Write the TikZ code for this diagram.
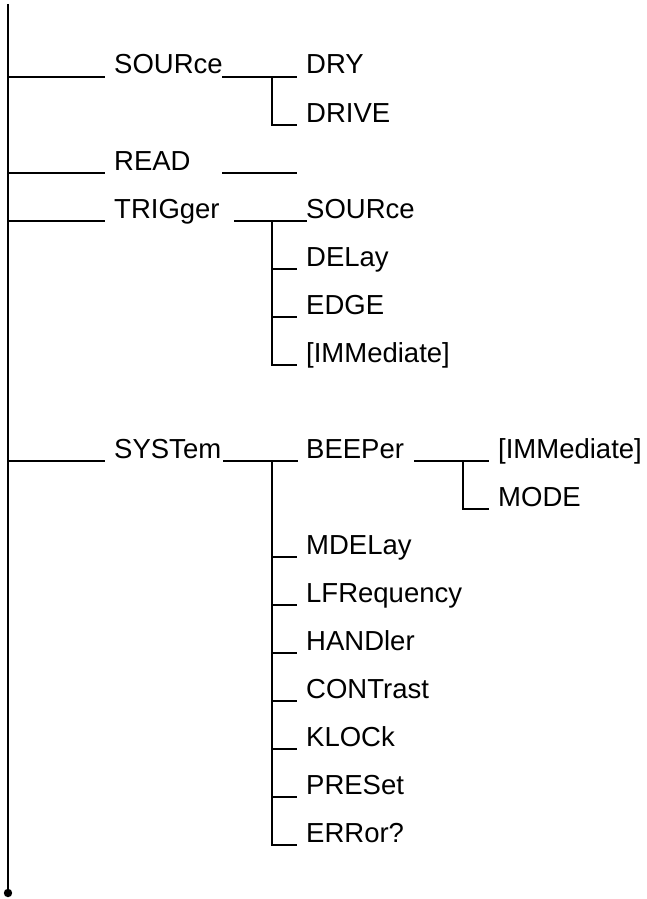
\documentclass[tikz,border=0pt]{standalone}
\usepackage{fontspec}
\setmainfont{Liberation Sans}
\begin{document}
\begin{tikzpicture}[x=1pt,y=-1pt,
  lbl/.style={anchor=base west, inner sep=0pt, font=\fontsize{27.5}{31}\selectfont},
  ln/.style={line width=1.9pt, line cap=rect}]
\useasboundingbox (0,0) rectangle (647,899);
% main trunk
\coordinate (top) at (8,4);
\coordinate (bot) at (8,893);
\draw[ln, line cap=butt] (top) -- (bot);
\fill (bot) circle (4.2pt);
% labels
\node[lbl] (src)   at (114,74)  {SOURce};
\node[lbl] (dry)   at (306,74)  {DRY};
\node[lbl] (drive) at (306,122) {DRIVE};
\node[lbl] (read)  at (114,170) {READ};
\node[lbl] (trig)  at (114,218) {TRIGger};
\node[lbl] (tsrc)  at (306,218) {SOURce};
\node[lbl] (tdel)  at (306,266) {DELay};
\node[lbl] (tedge) at (306,314) {EDGE};
\node[lbl] (timm)  at (306,362) {[IMMediate]};
\node[lbl] (sys)   at (114,458) {SYSTem};
\node[lbl] (beep)  at (306,458) {BEEPer};
\node[lbl] (bimm)  at (498,458) {[IMMediate]};
\node[lbl] (bmode) at (498,506) {MODE};
\node[lbl] (mdel)  at (306,554) {MDELay};
\node[lbl] (lfr)   at (306,602) {LFRequency};
\node[lbl] (hand)  at (306,650) {HANDler};
\node[lbl] (cont)  at (306,698) {CONTrast};
\node[lbl] (klock) at (306,746) {KLOCk};
\node[lbl] (pres)  at (306,794) {PRESet};
\node[lbl] (err)   at (306,842) {ERRor?};
% level-1 stubs from trunk
\foreach \y/\n in {77/a,173/b,221/c,461/d}{
  \coordinate (t\n) at (8,\y);
  \coordinate (e\n) at (104,\y);
  \draw[ln] (t\n) -- (e\n);
}
% SOURce branch
\coordinate (s1) at (223,77);  \coordinate (s2) at (296,77);
\coordinate (sj) at (272,77);  \coordinate (s3) at (296,125);
\draw[ln] (s1) -- (s2);
\draw[ln] (sj) |- (s3);
% READ
\coordinate (r1) at (223,173); \coordinate (r2) at (296,173);
\draw[ln] (r1) -- (r2);
% TRIGger branch
\coordinate (g1) at (235,221); \coordinate (g2) at (306,221);
\coordinate (gj) at (272,221); \coordinate (g4) at (296,365);
\draw[ln] (g1) -- (g2);
\draw[ln] (gj) |- (g4);
\foreach \y in {269,317}{ \draw[ln] (272,\y) -- (296,\y); }
% SYSTem branch
\coordinate (y1) at (224,461); \coordinate (y2) at (297,461);
\coordinate (yj) at (272,461); \coordinate (y9) at (296,845);
\draw[ln] (y1) -- (y2);
\draw[ln] (yj) |- (y9);
\foreach \y in {557,605,653,701,749,797}{ \draw[ln] (272,\y) -- (296,\y); }
% BEEPer branch
\coordinate (b1) at (415,461); \coordinate (b2) at (488,461);
\coordinate (bj) at (463,461); \coordinate (b3) at (488,509);
\draw[ln] (b1) -- (b2);
\draw[ln] (bj) |- (b3);
\end{tikzpicture}
\end{document}
